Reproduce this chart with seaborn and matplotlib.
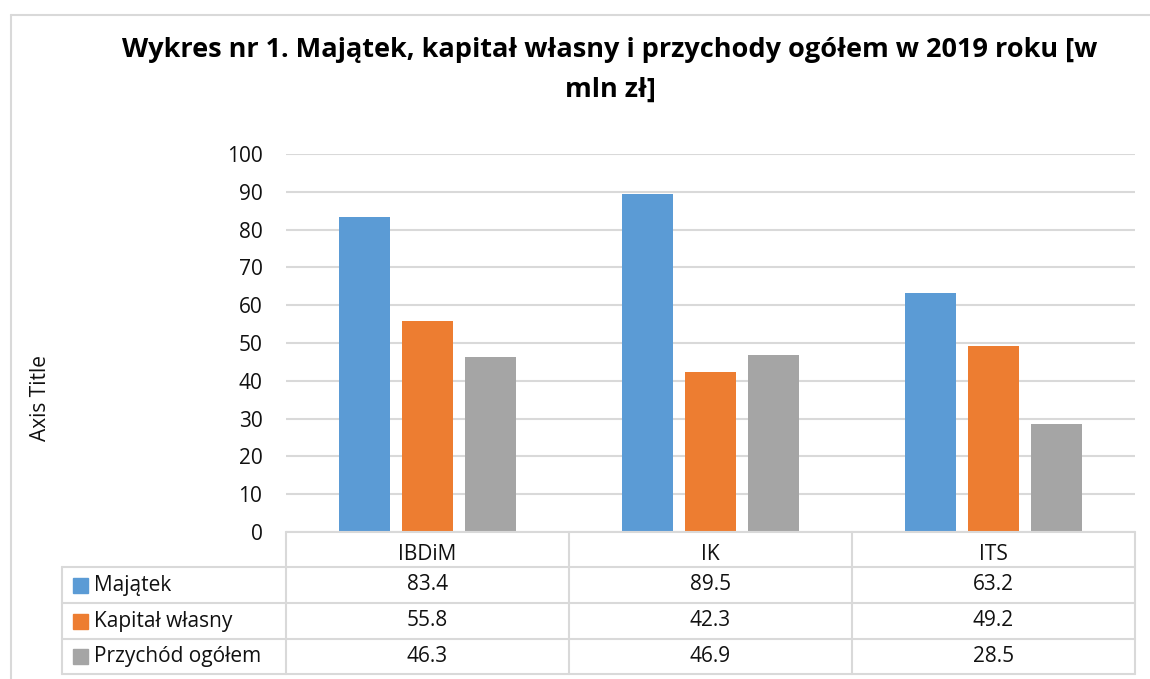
import pandas as pd
import matplotlib.pyplot as plt
import seaborn as sns

# data
institutes = ["IBDiM", "IK", "ITS"]
series = ["Majątek", "Kapitał własny", "Przychód ogółem"]
majatek = [83.4, 89.5, 63.2]
kapital = [55.8, 42.3, 49.2]
przychod = [46.3, 46.9, 28.5]
colors = ["#5B9BD5", "#ED7D31", "#A5A5A5"]

values = [majatek, kapital, przychod]
df = pd.DataFrame({
    "inst": institutes * 3,
    "series": [s for s in series for _ in institutes],
    "val": majatek + kapital + przychod,
})

sns.set_style("white")
plt.rcParams["font.family"] = ["Open Sans", "DejaVu Sans"]

W, H = 1150, 679
fig = plt.figure(figsize=(W / 100, H / 100), dpi=100)


def fx(px):
    return px / W


def fy(py):
    return 1 - py / H


grid_c = "#D9D9D9"
txt_c = "#111111"
fs = 15

# outer chart border
fig.add_artist(plt.Line2D([fx(11), fx(11)], [fy(15), fy(679)], color=grid_c, lw=1.5))
fig.add_artist(plt.Line2D([fx(11), fx(1150)], [fy(15), fy(15)], color=grid_c, lw=1.5))

left, right, top, bottom = 286, 1135, 154, 532
ax = fig.add_axes([fx(left), fy(bottom), fx(right - left), (bottom - top) / H])

sns.barplot(data=df, x="inst", y="val", hue="series", palette=colors,
            width=0.668, gap=0.205, ax=ax, legend=False, saturation=1, linewidth=0)

ax.set_ylim(0, 100)
ax.set_xlim(-0.5, 2.5)
ax.set_yticks(range(0, 101, 10))
ax.yaxis.grid(True, color=grid_c, lw=1.5)
ax.set_axisbelow(True)
for s in ax.spines.values():
    s.set_visible(False)
ax.tick_params(axis="y", length=0, pad=17, labelsize=fs, labelcolor=txt_c)
ax.tick_params(axis="x", length=0, pad=9, labelsize=fs, labelcolor=txt_c)
ax.set_xlabel("")
ax.set_ylabel("")

# data table
rows_y = [532, 567, 603, 639, 674]
cols_x = [286, 569, 852, 1135]
tl = 1.5
fig.add_artist(plt.Line2D([fx(286), fx(1135)], [fy(532), fy(532)], color=grid_c, lw=tl))
for cx in cols_x:
    fig.add_artist(plt.Line2D([fx(cx), fx(cx)], [fy(532), fy(674)], color=grid_c, lw=tl))
fig.add_artist(plt.Line2D([fx(62), fx(62)], [fy(567), fy(674)], color=grid_c, lw=tl))
for ry in rows_y[1:]:
    fig.add_artist(plt.Line2D([fx(62), fx(1135)], [fy(ry), fy(ry)], color=grid_c, lw=tl))

for r, (name, vals, col) in enumerate(zip(series, values, colors)):
    yc = (rows_y[r + 1] + rows_y[r + 2]) / 2
    fig.add_artist(plt.Rectangle((fx(73), fy(yc + 7.5)), fx(15), 15 / H, color=col))
    fig.text(fx(94), fy(yc), name, ha="left", va="center", fontsize=fs, color=txt_c)
    for c, v in enumerate(vals):
        xc = (cols_x[c] + cols_x[c + 1]) / 2
        fig.text(fx(xc), fy(yc), f"{v:.1f}", ha="center", va="center", fontsize=fs, color=txt_c)

# axis title
fig.text(fx(40), fy(398), "Axis Title", rotation=90, ha="center", va="center",
         fontsize=fs, color=txt_c)

# title
fig.text(fx(610), fy(50), "Wykres nr 1. Majątek, kapitał własny i przychody ogółem w 2019 roku [w",
         ha="center", va="center", fontsize=19.5, fontweight="bold", color="#000000")
fig.text(fx(610), fy(90), "mln zł]", ha="center", va="center",
         fontsize=19.5, fontweight="bold", color="#000000")

fig.savefig("out.png", dpi=100)
